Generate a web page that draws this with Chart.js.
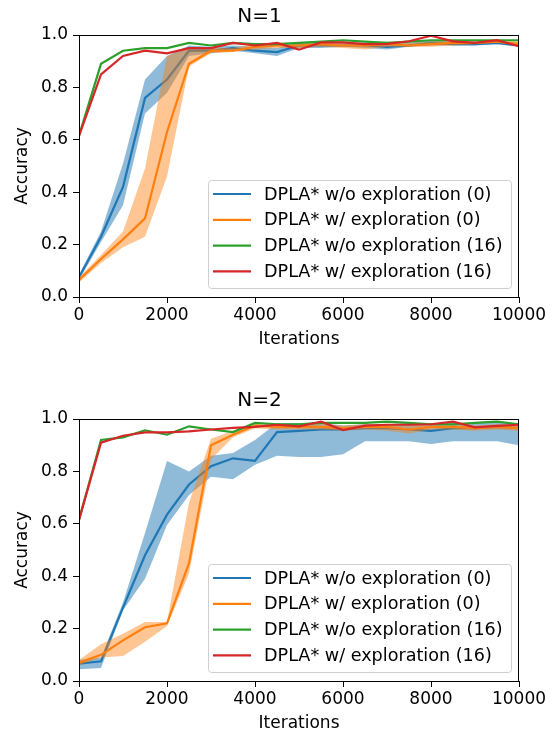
<!DOCTYPE html>
<html>
<head>
<meta charset="utf-8">
<script src="https://cdn.jsdelivr.net/npm/chart.js@4.4.0/dist/chart.umd.min.js"></script>
<style>
  html, body { margin: 0; padding: 0; background: #fff; overflow: hidden; }
  .box { position: absolute; left: 0; width: 557px; height: 354px; }
</style>
</head>
<body>
<div class="box" style="top:0px"><canvas id="chart1"></canvas></div>
<div class="box" style="top:384px"><canvas id="chart2"></canvas></div>
<script>
// iterations (x)
const iterations = [0, 500, 1000, 1500, 2000, 2500, 3000, 3500, 4000, 4500, 5000,
    5500, 6000, 6500, 7000, 7500, 8000, 8500, 9000, 9500, 10000];

const seriesNames = [
    'DPLA* w/o exploration (0)',
    'DPLA* w/ exploration (0)',
    'DPLA* w/o exploration (16)',
    'DPLA* w/ exploration (16)'
];

// N=1
const blue1 = [0.075, 0.23, 0.42, 0.76, 0.83, 0.94, 0.94, 0.95, 0.94, 0.935, 0.96, 0.96, 0.96, 0.96, 0.955, 0.96, 0.97, 0.965, 0.965, 0.97, 0.96];
const blue1Lo = [0.065, 0.21, 0.35, 0.70, 0.78, 0.92, 0.93, 0.94, 0.93, 0.92, 0.95, 0.95, 0.955, 0.95, 0.945, 0.955, 0.96, 0.96, 0.96, 0.965, 0.955];
const blue1Hi = [0.085, 0.25, 0.51, 0.83, 0.92, 0.96, 0.955, 0.96, 0.955, 0.95, 0.97, 0.97, 0.97, 0.97, 0.965, 0.97, 0.98, 0.975, 0.975, 0.975, 0.97];
const orange1 = [0.065, 0.145, 0.22, 0.30, 0.63, 0.89, 0.94, 0.94, 0.955, 0.96, 0.96, 0.965, 0.96, 0.96, 0.965, 0.96, 0.965, 0.97, 0.97, 0.975, 0.965];
const orange1Lo = [0.055, 0.13, 0.19, 0.23, 0.46, 0.88, 0.93, 0.935, 0.945, 0.95, 0.95, 0.955, 0.95, 0.945, 0.955, 0.955, 0.955, 0.96, 0.965, 0.97, 0.96];
const orange1Hi = [0.075, 0.16, 0.25, 0.49, 0.92, 0.95, 0.95, 0.95, 0.965, 0.97, 0.97, 0.975, 0.97, 0.97, 0.975, 0.97, 0.975, 0.98, 0.975, 0.98, 0.975];
const green1 = [0.615, 0.89, 0.94, 0.95, 0.95, 0.97, 0.96, 0.97, 0.965, 0.965, 0.97, 0.975, 0.98, 0.975, 0.97, 0.975, 0.98, 0.98, 0.98, 0.98, 0.98];
const red1 = [0.615, 0.85, 0.92, 0.94, 0.93, 0.95, 0.95, 0.97, 0.96, 0.97, 0.944, 0.972, 0.972, 0.965, 0.966, 0.976, 0.997, 0.976, 0.97, 0.98, 0.957];

// N=2
const blue2 = [0.066, 0.075, 0.28, 0.48, 0.635, 0.75, 0.82, 0.85, 0.84, 0.95, 0.955, 0.96, 0.96, 0.965, 0.965, 0.96, 0.955, 0.965, 0.965, 0.97, 0.965];
const blue2Lo = [0.045, 0.05, 0.27, 0.39, 0.595, 0.71, 0.78, 0.77, 0.825, 0.86, 0.855, 0.855, 0.865, 0.915, 0.915, 0.915, 0.905, 0.915, 0.915, 0.915, 0.90];
const blue2Hi = [0.08, 0.09, 0.30, 0.565, 0.84, 0.80, 0.86, 0.87, 0.92, 0.985, 0.985, 0.985, 0.975, 0.98, 0.98, 0.985, 0.985, 0.985, 0.985, 0.985, 0.985];
const orange2 = [0.07, 0.10, 0.155, 0.205, 0.22, 0.45, 0.90, 0.94, 0.975, 0.97, 0.97, 0.97, 0.965, 0.97, 0.97, 0.96, 0.97, 0.97, 0.965, 0.97, 0.965];
const orange2Lo = [0.06, 0.09, 0.095, 0.15, 0.21, 0.41, 0.845, 0.93, 0.965, 0.96, 0.96, 0.96, 0.955, 0.96, 0.955, 0.945, 0.96, 0.96, 0.955, 0.96, 0.955];
const orange2Hi = [0.08, 0.14, 0.18, 0.225, 0.225, 0.68, 0.925, 0.955, 0.985, 0.98, 0.98, 0.98, 0.975, 0.98, 0.98, 0.975, 0.98, 0.98, 0.975, 0.98, 0.975];
const green2 = [0.615, 0.92, 0.93, 0.957, 0.94, 0.972, 0.96, 0.95, 0.985, 0.98, 0.98, 0.985, 0.985, 0.985, 0.99, 0.985, 0.98, 0.98, 0.985, 0.99, 0.98];
const red2 = [0.615, 0.91, 0.936, 0.949, 0.949, 0.953, 0.96, 0.966, 0.97, 0.978, 0.972, 0.99, 0.958, 0.975, 0.978, 0.978, 0.98, 0.99, 0.968, 0.974, 0.978];

const yTicks = [0, 0.2, 0.4, 0.6, 0.8, 1.0];
const xTicks = [0, 2000, 4000, 6000, 8000, 10000];

const colors = ['#1f77b4', '#ff7f0e', '#2ca02c', '#d62728'];
const FONT = "'DejaVu Sans', sans-serif";

function pts(ys) {
    return iterations.map((x, i) => ({ x: x, y: ys[i] }));
}

function line(label, ys, color, order) {
    return { label: label, data: pts(ys), borderColor: color, borderWidth: 2.2,
        pointRadius: 0, fill: false, tension: 0, order: order };
}

function band(lo, hi, color, order) {
    return [
        { label: '_lo', data: pts(lo), borderWidth: 0, pointRadius: 0, fill: false, order: order, borderColor: 'transparent' },
        { label: '_hi', data: pts(hi), borderWidth: 0, pointRadius: 0, fill: '-1', order: order,
            borderColor: 'transparent', backgroundColor: color }
    ];
}

// box frame + legend in the lower right
const framePlugin = {
    id: 'frame',
    afterDraw(chart) {
        const ctx = chart.ctx;
        const a = chart.chartArea;
        ctx.save();
        ctx.strokeStyle = '#000';
        ctx.lineWidth = 1;
        ctx.strokeRect(a.left + 0.5, a.top + 0.5, a.right - a.left - 1, a.bottom - a.top);

        const w = 303, h = 108;
        const bx = a.right - 8 - w, by = a.bottom - 9 - h;
        ctx.fillStyle = 'rgba(255,255,255,0.8)';
        ctx.strokeStyle = '#d0d0d0';
        ctx.beginPath();
        ctx.roundRect(bx + 0.5, by + 0.5, w, h, 3);
        ctx.fill();
        ctx.stroke();

        ctx.font = '17.6px ' + FONT;
        ctx.textBaseline = 'middle';
        ctx.fillStyle = '#000';
        seriesNames.forEach((name, i) => {
            const yy = by + 14 + i * 25.8;
            ctx.strokeStyle = colors[i];
            ctx.lineWidth = 2.2;
            ctx.beginPath();
            ctx.moveTo(bx + 5, yy);
            ctx.lineTo(bx + 43, yy);
            ctx.stroke();
            ctx.fillText(name, bx + 56, yy + 1);
        });
        ctx.restore();
    }
};

function makeChart(id, title, b, bLo, bHi, o, oLo, oHi, g, r) {
    const datasets = [
        line(seriesNames[3], r, colors[3], 0),
        line(seriesNames[2], g, colors[2], 1),
        line(seriesNames[1], o, colors[1], 2),
        ...band(oLo, oHi, 'rgba(255,127,14,0.45)', 3),
        line(seriesNames[0], b, colors[0], 4),
        ...band(bLo, bHi, 'rgba(31,119,180,0.5)', 5)
    ];
    return new Chart(document.getElementById(id), {
        type: 'line',
        data: { datasets: datasets },
        options: {
            responsive: false,
            animation: false,
            devicePixelRatio: 1,
            layout: { padding: { left: 0, right: 38, top: 0, bottom: 0 } },
            plugins: {
                legend: { display: false },
                tooltip: { enabled: false },
                title: { display: true, text: title, color: '#000',
                    font: { family: FONT, size: 20, weight: 'normal' },
                    padding: { top: 5, bottom: 6 } }
            },
            scales: {
                x: {
                    type: 'linear', min: 0, max: 10000,
                    afterBuildTicks: s => { s.ticks = xTicks.map(v => ({ value: v })); },
                    afterFit: s => { s.height = 57; },
                    grid: { drawOnChartArea: false, drawTicks: true, tickLength: 6, tickColor: '#000' },
                    border: { color: '#000' },
                    ticks: { color: '#000', padding: 2, maxRotation: 0, font: { family: FONT, size: 17 },
                        callback: v => String(v) },
                    title: { display: true, text: 'Iterations', color: '#000',
                        font: { family: FONT, size: 17 }, padding: { top: 0, bottom: 4 } }
                },
                y: {
                    type: 'linear', min: 0, max: 1,
                    afterBuildTicks: s => { s.ticks = yTicks.map(v => ({ value: v })); },
                    afterFit: s => { s.width = 79; },
                    grid: { drawOnChartArea: false, drawTicks: true, tickLength: 6, tickColor: '#000' },
                    border: { color: '#000' },
                    ticks: { color: '#000', padding: 5, font: { family: FONT, size: 17 },
                        callback: v => v.toFixed(1) },
                    title: { display: true, text: 'Accuracy', color: '#000',
                        font: { family: FONT, size: 17 }, padding: { top: 12, bottom: 0 } }
                }
            }
        },
        plugins: [framePlugin]
    });
}

document.getElementById('chart1').width = 557;
document.getElementById('chart1').height = 354;
document.getElementById('chart2').width = 557;
document.getElementById('chart2').height = 354;

makeChart('chart1', 'N=1', blue1, blue1Lo, blue1Hi, orange1, orange1Lo, orange1Hi, green1, red1);
makeChart('chart2', 'N=2', blue2, blue2Lo, blue2Hi, orange2, orange2Lo, orange2Hi, green2, red2);
</script>
</body>
</html>
